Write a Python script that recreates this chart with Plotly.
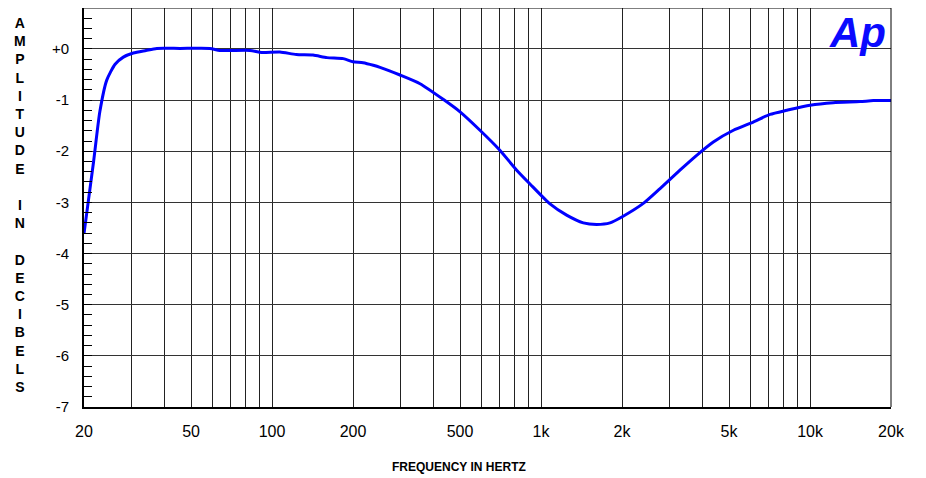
import plotly.graph_objects as go

# ---- data ----
freq_hz = [20, 21.7, 22.9, 24.3, 26.1, 28, 30.5, 34, 37.3, 45.5, 58.8, 64, 82.8, 91.6,
           107, 123, 142, 160, 184, 200, 218, 238, 252, 299, 355, 434, 500, 593, 703,
           812, 910, 1080, 1245, 1436, 1610, 1805, 2020, 2400, 2770, 3300, 3790, 4370,
           5190, 6150, 7100, 8190, 10000, 12200, 15340, 17200, 20000]
amp_db = [-3.61, -2.21, -1.23, -0.61, -0.30, -0.16, -0.08, -0.03, 0.01, 0.01, 0.01, -0.03,
          -0.03, -0.07, -0.06, -0.11, -0.12, -0.17, -0.19, -0.25, -0.27, -0.32, -0.36,
          -0.51, -0.68, -0.99, -1.23, -1.59, -1.98, -2.37, -2.64, -3.03, -3.25, -3.40,
          -3.43, -3.40, -3.27, -3.02, -2.73, -2.36, -2.08, -1.82, -1.59, -1.43, -1.28,
          -1.20, -1.10, -1.05, -1.03, -1.01, -1.01]

x_grid_vals = [20, 30, 40, 50, 60, 70, 80, 90, 100, 200, 300, 400, 500, 600, 700, 800,
               900, 1000, 2000, 3000, 4000, 5000, 6000, 7000, 8000, 9000, 10000, 20000]
x_label_map = {20: "20", 50: "50", 100: "100", 200: "200", 500: "500", 1000: "1k",
               2000: "2k", 5000: "5k", 10000: "10k", 20000: "20k"}
x_tick_text = [x_label_map.get(v, "") for v in x_grid_vals]

y_tick_vals = [0, -1, -2, -3, -4, -5, -6, -7]
y_tick_text = ["+0", "-1", "-2", "-3", "-4", "-5", "-6", "-7"]

y_title = "AMPLITUDE IN DECIBELS"
x_title = "FREQUENCY IN HERTZ"

fig = go.Figure()
fig.add_trace(go.Scatter(x=freq_hz, y=amp_db, mode="lines",
                         line=dict(color="#0000ff", width=3, shape="spline", smoothing=0.6),
                         hoverinfo="skip", showlegend=False))

xtick_font = dict(family="Liberation Sans Narrow, Arial Narrow, Liberation Sans, Arial", size=16, color="black")
ytick_font = dict(family="Liberation Sans, Arial", size=15, color="black")

fig.update_xaxes(type="log", range=[1.30103, 4.30103],
                 tickvals=x_grid_vals, ticktext=x_tick_text,
                 showgrid=True, gridcolor="#222222", gridwidth=1,
                 showline=True, linecolor="black", linewidth=2,
                 ticks="", ticklabelstandoff=9, tickfont=xtick_font,
                 zeroline=False, automargin=False)
fig.update_yaxes(range=[-7, 0.8], tickvals=y_tick_vals, ticktext=y_tick_text,
                 showgrid=True, gridcolor="#333333", gridwidth=1,
                 showline=True, linecolor="black", linewidth=2,
                 ticks="inside", ticklen=8, tickcolor="black",
                 minor=dict(dtick=0.2, tick0=0, ticks="inside", ticklen=8,
                            tickcolor="black", showgrid=False),
                 ticklabelstandoff=10, tickfont=ytick_font, zeroline=False,
                 automargin=False)

# thin top/right frame
fig.add_shape(type="line", xref="paper", yref="paper", x0=0, x1=1, y0=1, y1=1,
              line=dict(color="black", width=1))
fig.add_shape(type="line", xref="paper", yref="paper", x0=1, x1=1, y0=0, y1=1,
              line=dict(color="black", width=1))

# vertical stacked y-axis title
fig.add_annotation(text="<br>".join(list(y_title)), xref="paper", yref="paper",
                   x=-0.0793, y=0.506, xanchor="center", yanchor="middle",
                   showarrow=False, align="center",
                   font=dict(family="Liberation Sans, Arial", size=14, color="black", weight="bold"))
fig.add_annotation(text=x_title, xref="paper", yref="paper",
                   x=0.465, y=-0.150, xanchor="center", yanchor="middle",
                   showarrow=False,
                   font=dict(family="Liberation Sans, Arial", size=12, color="black", weight="bold"))
# Ap logo
fig.add_annotation(text="<b><i>Ap</i></b>", xref="paper", yref="paper",
                   x=0.995, y=1.0, xanchor="right", yanchor="top",
                   showarrow=False, borderpad=0,
                   font=dict(family="Liberation Sans, Arial", size=42, color="#0a0aff"))

fig.update_layout(width=926, height=478,
                  margin=dict(l=76, r=43, t=0, b=79),
                  paper_bgcolor="white", plot_bgcolor="white")

fig.write_html("out.html")
